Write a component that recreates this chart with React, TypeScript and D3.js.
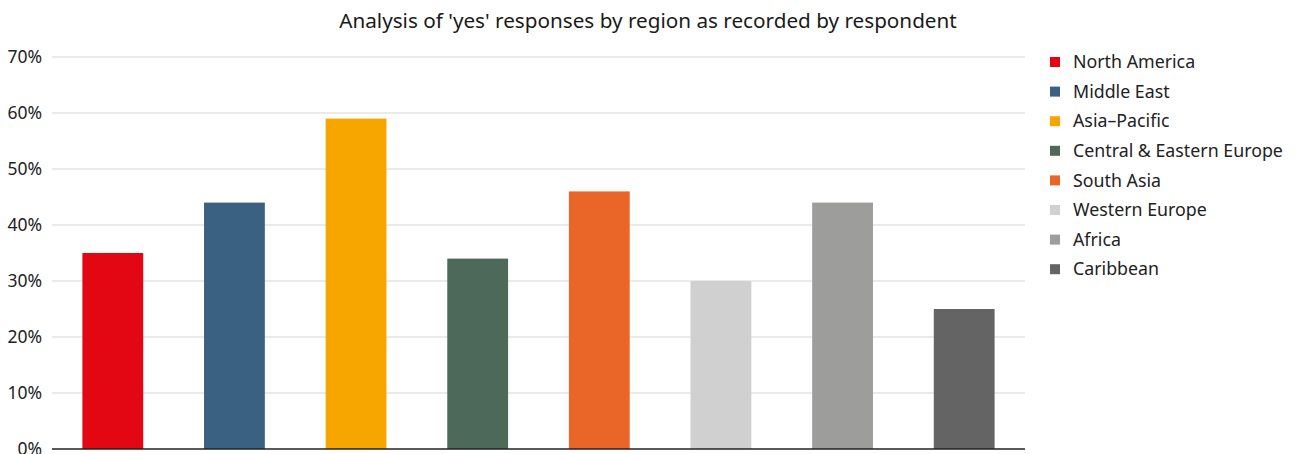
import React from "react";
import * as d3 from "d3";

const categories = ["North America", "Middle East", "Asia–Pacific", "Central & Eastern Europe", "South Asia", "Western Europe", "Africa", "Caribbean"];
const values = [35, 44, 59, 34, 46, 30, 44, 25];
const colors = ["#e30613", "#3a6182", "#f7a600", "#4c695a", "#ea6628", "#d0d0d0", "#9d9d9c", "#646464"];
const yTicks = [0, 10, 20, 30, 40, 50, 60, 70];
const title = "Analysis of 'yes' responses by region as recorded by respondent";

export default function App() {
  const W = 1295, H = 454;
  const left = 52, right = 1025, top = 57, bottom = 449;
  const x = d3.scaleBand<string>().domain(categories).range([left, right]).paddingInner(0.5).paddingOuter(0.25);
  const y = d3.scaleLinear().domain([0, 70]).range([bottom, top]);
  const font = "'Noto Sans', Lato, sans-serif";
  return (
    <svg width={W} height={H} style={{ position: "absolute", left: 0, top: 0, background: "#fff" }} fontFamily={font}>
      <text x={648} y={28} textAnchor="middle" fontSize={20.7} fill="#1a1a1a">{title}</text>
      {yTicks.map((t) => (
        <g key={t}>
          {t > 0 && <line x1={left} x2={right} y1={y(t)} y2={y(t)} stroke="#e3e3e3" strokeWidth={1.5} />}
          <text x={42} y={y(t)} dy="0.35em" textAnchor="end" fontSize={17.5} fill="#222">{t}%</text>
        </g>
      ))}
      {categories.map((c, i) => (
        <rect key={c} x={x(c)} y={y(values[i])} width={x.bandwidth()} height={bottom - y(values[i])} fill={colors[i]} />
      ))}
      <line x1={left} x2={right} y1={bottom} y2={bottom} stroke="#222" strokeWidth={1.5} />
      {categories.map((c, i) => (
        <g key={c} transform={`translate(1050, ${62 + i * 29.6})`}>
          <rect x={0} y={-5} width={10} height={10} fill={colors[i]} />
          <text x={23} y={0} dy="0.35em" fontSize={17.8} fill="#222">{c}</text>
        </g>
      ))}
    </svg>
  );
}
